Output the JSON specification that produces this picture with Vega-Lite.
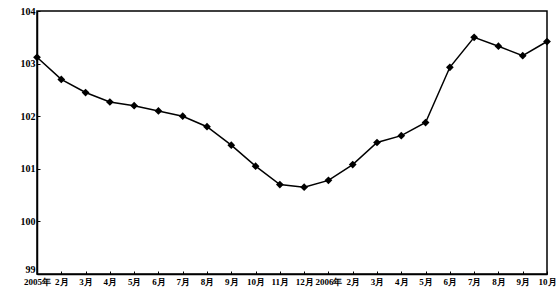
{
  "$schema": "https://vega.github.io/schema/vega-lite/v6.json",
  "width": 510,
  "height": 263,
  "autosize": {"type": "none"},
  "padding": {"left": 37, "top": 11, "right": 9, "bottom": 20},
  "background": "white",
  "config": {
    "view": {"stroke": "black", "strokeWidth": 1.5},
    "axis": {"labelFont": "Liberation Serif", "labelFontWeight": "bold", "labelColor": "black", "domainColor": "black", "tickColor": "black", "grid": false, "title": null}
  },
  "data": {"values": [
    {"date": "2005-01", "v": 103.12},
    {"date": "2005-02", "v": 102.7},
    {"date": "2005-03", "v": 102.45},
    {"date": "2005-04", "v": 102.27},
    {"date": "2005-05", "v": 102.2},
    {"date": "2005-06", "v": 102.1},
    {"date": "2005-07", "v": 102.0},
    {"date": "2005-08", "v": 101.8},
    {"date": "2005-09", "v": 101.45},
    {"date": "2005-10", "v": 101.05},
    {"date": "2005-11", "v": 100.7},
    {"date": "2005-12", "v": 100.65},
    {"date": "2006-01", "v": 100.78},
    {"date": "2006-02", "v": 101.08},
    {"date": "2006-03", "v": 101.5},
    {"date": "2006-04", "v": 101.63},
    {"date": "2006-05", "v": 101.88},
    {"date": "2006-06", "v": 102.93},
    {"date": "2006-07", "v": 103.5},
    {"date": "2006-08", "v": 103.33},
    {"date": "2006-09", "v": 103.15},
    {"date": "2006-10", "v": 103.42}
  ]},
  "encoding": {
    "x": {"field": "date", "type": "ordinal", "scale": {"type": "point", "padding": 0},
      "axis": {"labelAngle": 0, "labelFontSize": 9, "labelOverlap": false, "labelFlush": false, "tickSize": -3, "labelPadding": 6, "domainWidth": 1.5,
        "labelExpr": "slice(datum.value,5)=='01' ? slice(datum.value,0,4)+'年' : toNumber(slice(datum.value,5))+'月'"}},
    "y": {"field": "v", "type": "quantitative", "scale": {"domain": [99, 104], "zero": false},
      "axis": {"values": [99, 100, 101, 102, 103, 104], "labelFontSize": 10, "tickSize": -3, "labelPadding": 5, "domainWidth": 1.5,
        "labelBaseline": {"condition": {"test": "datum.value == 99", "value": "bottom"}, "value": "middle"}}}
  },
  "layer": [
    {"mark": {"type": "line", "color": "black", "strokeWidth": 1.5}},
    {"mark": {"type": "point", "shape": "diamond", "filled": true, "color": "black", "size": 60, "opacity": 1}}
  ]
}
